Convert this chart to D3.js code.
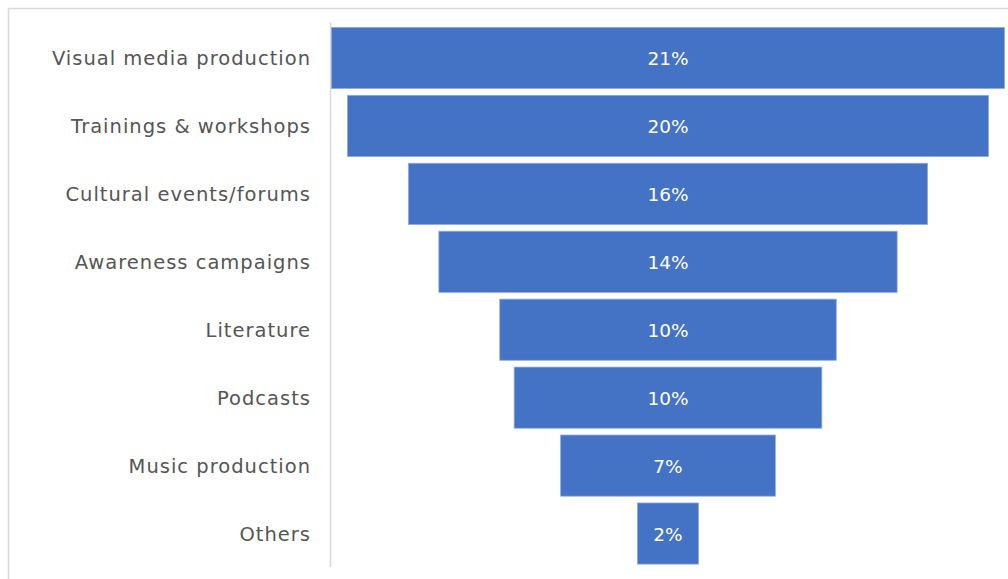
<!DOCTYPE html>
<html><head><meta charset="utf-8">
<script src="https://cdn.jsdelivr.net/npm/d3@7"></script>
<style>body{margin:0;background:#fff;}svg{display:block;}</style>
</head><body>
<script>
const categories = ["Visual media production","Trainings & workshops","Cultural events/forums","Awareness campaigns","Literature","Podcasts","Music production","Others"];
const values = [21.0, 20.0, 16.2, 14.3, 10.5, 9.6, 6.7, 1.9];
const labels = ["21%","20%","16%","14%","10%","10%","7%","2%"];

const W = 1008, H = 579;
const svg = d3.select("body").append("svg").attr("width", W).attr("height", H);
svg.append("rect").attr("x",8.5).attr("y",8.5).attr("width",1100).attr("height",700)
  .attr("fill","#fff").attr("stroke","#d9d9d9").attr("stroke-width",1.5);

const cx = 668;
const y = d3.scaleBand().domain(categories).range([24, 567.5]).paddingInner(0.1).paddingOuter(0.05);
const half = d3.scaleLinear().domain([0, 21]).range([0, 336.5]);

svg.append("line").attr("x1",330.5).attr("x2",330.5).attr("y1",22).attr("y2",567)
  .attr("stroke","#d9d9d9").attr("stroke-width",1.5);

const font = "Tahoma, 'DejaVu Sans', Verdana, sans-serif";
svg.selectAll("rect.bar").data(values).join("rect").attr("class","bar")
  .attr("x", d => cx - half(d)).attr("width", d => 2*half(d))
  .attr("y", (d,i) => y(categories[i])).attr("height", y.bandwidth())
  .attr("fill","#4472c4").attr("stroke","#8eaadb").attr("stroke-width",0.8);

svg.selectAll("text.cat").data(categories).join("text").attr("class","cat")
  .attr("x", 311).attr("y", d => y(d) + y.bandwidth()/2 + 1)
  .attr("text-anchor","end").attr("dominant-baseline","central")
  .attr("font-family", font).attr("font-size", 19.5).attr("letter-spacing", 1.0).attr("fill","#555555")
  .text(d => d);

svg.selectAll("text.val").data(labels).join("text").attr("class","val")
  .attr("x", cx).attr("y", (d,i) => y(categories[i]) + y.bandwidth()/2 + 1)
  .attr("text-anchor","middle").attr("dominant-baseline","central")
  .attr("font-family", font).attr("font-size", 18.5).attr("fill","#ffffff")
  .text(d => d);
</script>
</body></html>
